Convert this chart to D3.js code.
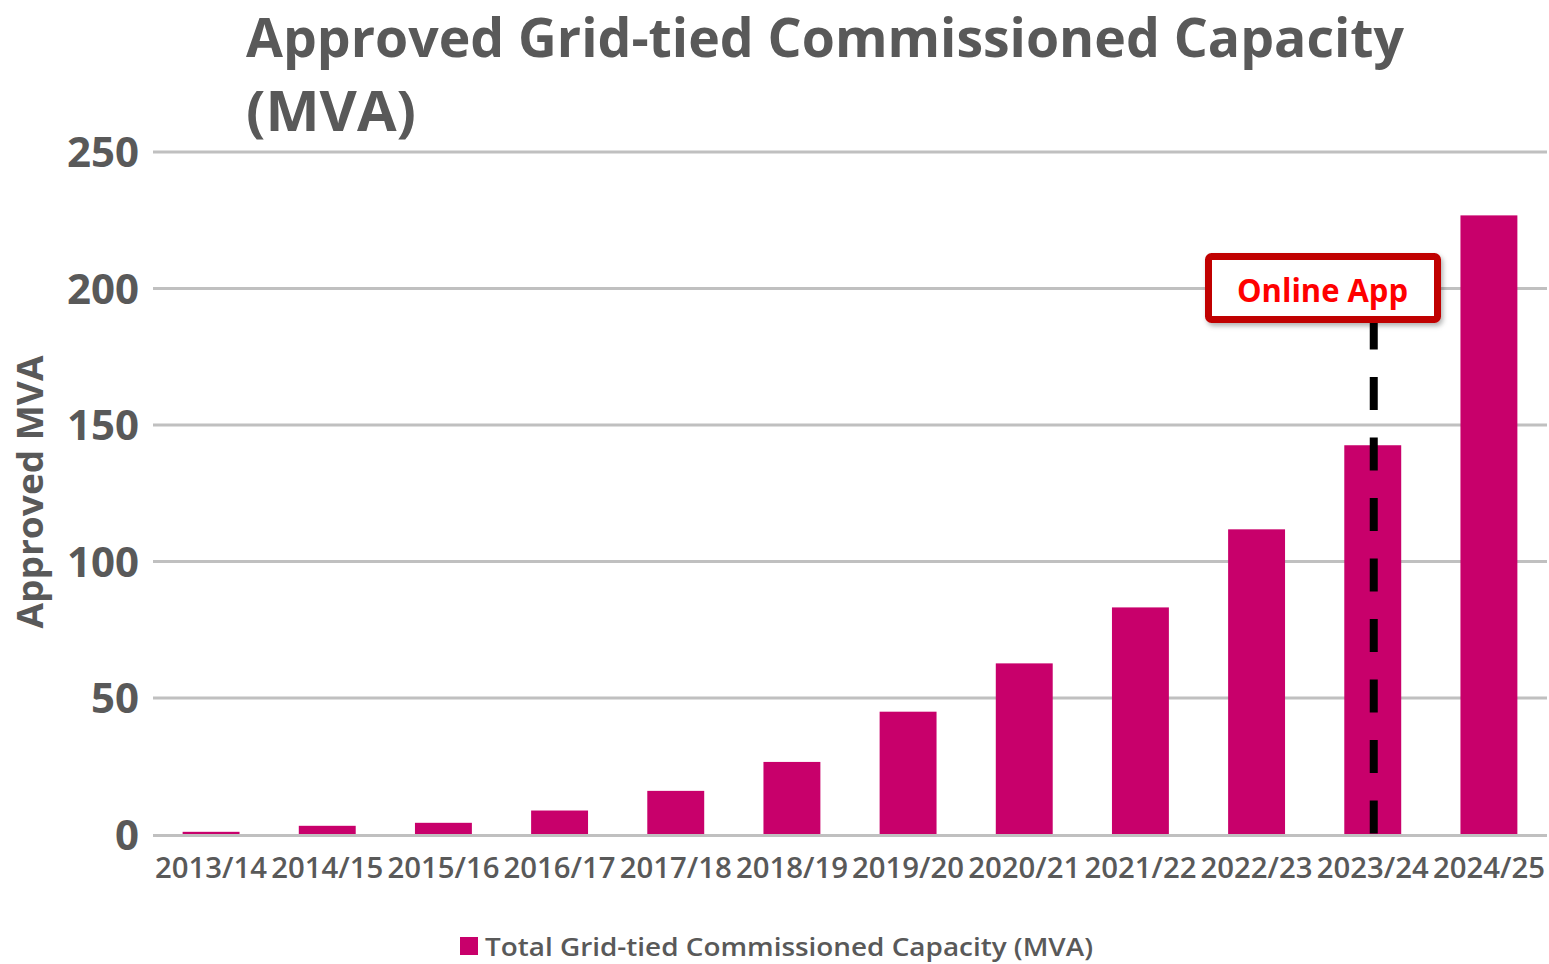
<!DOCTYPE html>
<html>
<head>
<meta charset="utf-8">
<script src="https://cdn.jsdelivr.net/npm/d3@7.9.0/dist/d3.min.js"></script>
<style>
  html, body { margin: 0; padding: 0; background: #fff; }
  svg { display: block; }
  text { font-family: "Open Sans", "Noto Sans", sans-serif; }
</style>
</head>
<body>
<svg id="chart" width="1549" height="964"></svg>
<script>
// fiscal years on the x axis
const years = ['2013/14', '2014/15', '2015/16', '2016/17', '2017/18', '2018/19',
  '2019/20', '2020/21', '2021/22', '2022/23', '2023/24', '2024/25'];
// approved grid-tied commissioned capacity, MVA
const capacity = [0.8, 3.0, 4.1, 8.6, 15.8, 26.4, 44.8, 62.5, 83.0, 111.6, 142.4, 226.6];
const yTicks = [0, 50, 100, 150, 200, 250];
const markerYear = '2023/24';

const grey = '#595959';
const barColor = '#c8006b';

const svg = d3.select('#chart');

const x = d3.scaleBand()
  .domain(years)
  .range([153, 1547])
  .paddingInner(0.51)
  .paddingOuter(0.255);

const y = d3.scaleLinear()
  .domain([0, 250])
  .range([834, 151.5]);

// title
const title = svg.append('g').attr('fill', grey).attr('font-weight', 700).attr('font-size', 53);
title.append('text')
  .attr('x', 246).attr('y', 57)
  .attr('textLength', 1158).attr('lengthAdjust', 'spacingAndGlyphs')
  .text('Approved Grid-tied Commissioned Capacity');
title.append('text')
  .attr('x', 246).attr('y', 131)
  .attr('font-size', 56)
  .attr('textLength', 170).attr('lengthAdjust', 'spacingAndGlyphs')
  .text('(MVA)');

// y axis + gridlines
const yAxis = svg.append('g')
  .attr('transform', 'translate(153,0)')
  .call(d3.axisLeft(y).tickValues(yTicks).tickSize(-1394).tickPadding(14));
yAxis.select('.domain').remove();
yAxis.selectAll('.tick line')
  .attr('stroke', '#c0c0c0').attr('stroke-width', 3)
  .attr('transform', (d) => (d === 0 ? 'translate(0,1)' : null));
yAxis.selectAll('.tick text')
  .attr('fill', grey).attr('font-size', 42).attr('font-weight', 700)
  .attr('font-family', '"Open Sans", sans-serif').attr('dy', '0.36em');

svg.append('text')
  .attr('transform', 'translate(43,492) rotate(-90)')
  .attr('text-anchor', 'middle')
  .attr('fill', grey).attr('font-size', 35).attr('font-weight', 700)
  .attr('textLength', 273).attr('lengthAdjust', 'spacingAndGlyphs')
  .text('Approved MVA');

// bars (drawn over the gridlines)
svg.append('g')
  .selectAll('rect')
  .data(years)
  .join('rect')
  .attr('x', (d) => x(d))
  .attr('width', x.bandwidth())
  .attr('y', (d, i) => y(capacity[i]))
  .attr('height', (d, i) => y(0) - y(capacity[i]))
  .attr('fill', barColor);

// x axis
const xAxis = svg.append('g')
  .attr('transform', `translate(0,${y(0)})`)
  .call(d3.axisBottom(x).tickSize(0).tickPadding(23));
xAxis.select('.domain').remove();
xAxis.selectAll('.tick text')
  .attr('fill', grey).attr('font-size', 29).attr('font-weight', 600)
  .attr('font-family', '"Open Sans", sans-serif')
  .attr('textLength', 112).attr('lengthAdjust', 'spacingAndGlyphs');

// "Online App" marker
const mx = x(markerYear) + x.bandwidth() / 2 + 1;
svg.append('line')
  .attr('x1', mx).attr('x2', mx)
  .attr('y1', 316.5).attr('y2', y(0))
  .attr('stroke', '#000').attr('stroke-width', 8)
  .attr('stroke-dasharray', '33 27.5');

const defs = svg.append('defs');
const shadow = defs.append('filter').attr('id', 'shadow')
  .attr('x', '-10%').attr('y', '-20%').attr('width', '130%').attr('height', '150%');
shadow.append('feDropShadow')
  .attr('dx', 2).attr('dy', 3).attr('stdDeviation', 2.5)
  .attr('flood-color', '#000').attr('flood-opacity', 0.3);

svg.append('rect')
  .attr('x', 1208.5).attr('y', 256.5)
  .attr('width', 229).attr('height', 63)
  .attr('rx', 3)
  .attr('fill', '#fff').attr('stroke', '#c00000').attr('stroke-width', 7)
  .attr('filter', 'url(#shadow)');
svg.append('text')
  .attr('x', 1322.5).attr('y', 302)
  .attr('text-anchor', 'middle')
  .attr('fill', '#ff0000').attr('font-size', 33).attr('font-weight', 700)
  .attr('textLength', 171).attr('lengthAdjust', 'spacingAndGlyphs')
  .text('Online App');

// legend
const legend = svg.append('g');
legend.append('rect')
  .attr('x', 460).attr('y', 937).attr('width', 18).attr('height', 18)
  .attr('fill', barColor);
legend.append('text')
  .attr('x', 485).attr('y', 956)
  .attr('fill', grey).attr('font-size', 25).attr('font-weight', 600)
  .attr('textLength', 608).attr('lengthAdjust', 'spacingAndGlyphs')
  .text('Total Grid-tied Commissioned Capacity (MVA)');
</script>
</body>
</html>
